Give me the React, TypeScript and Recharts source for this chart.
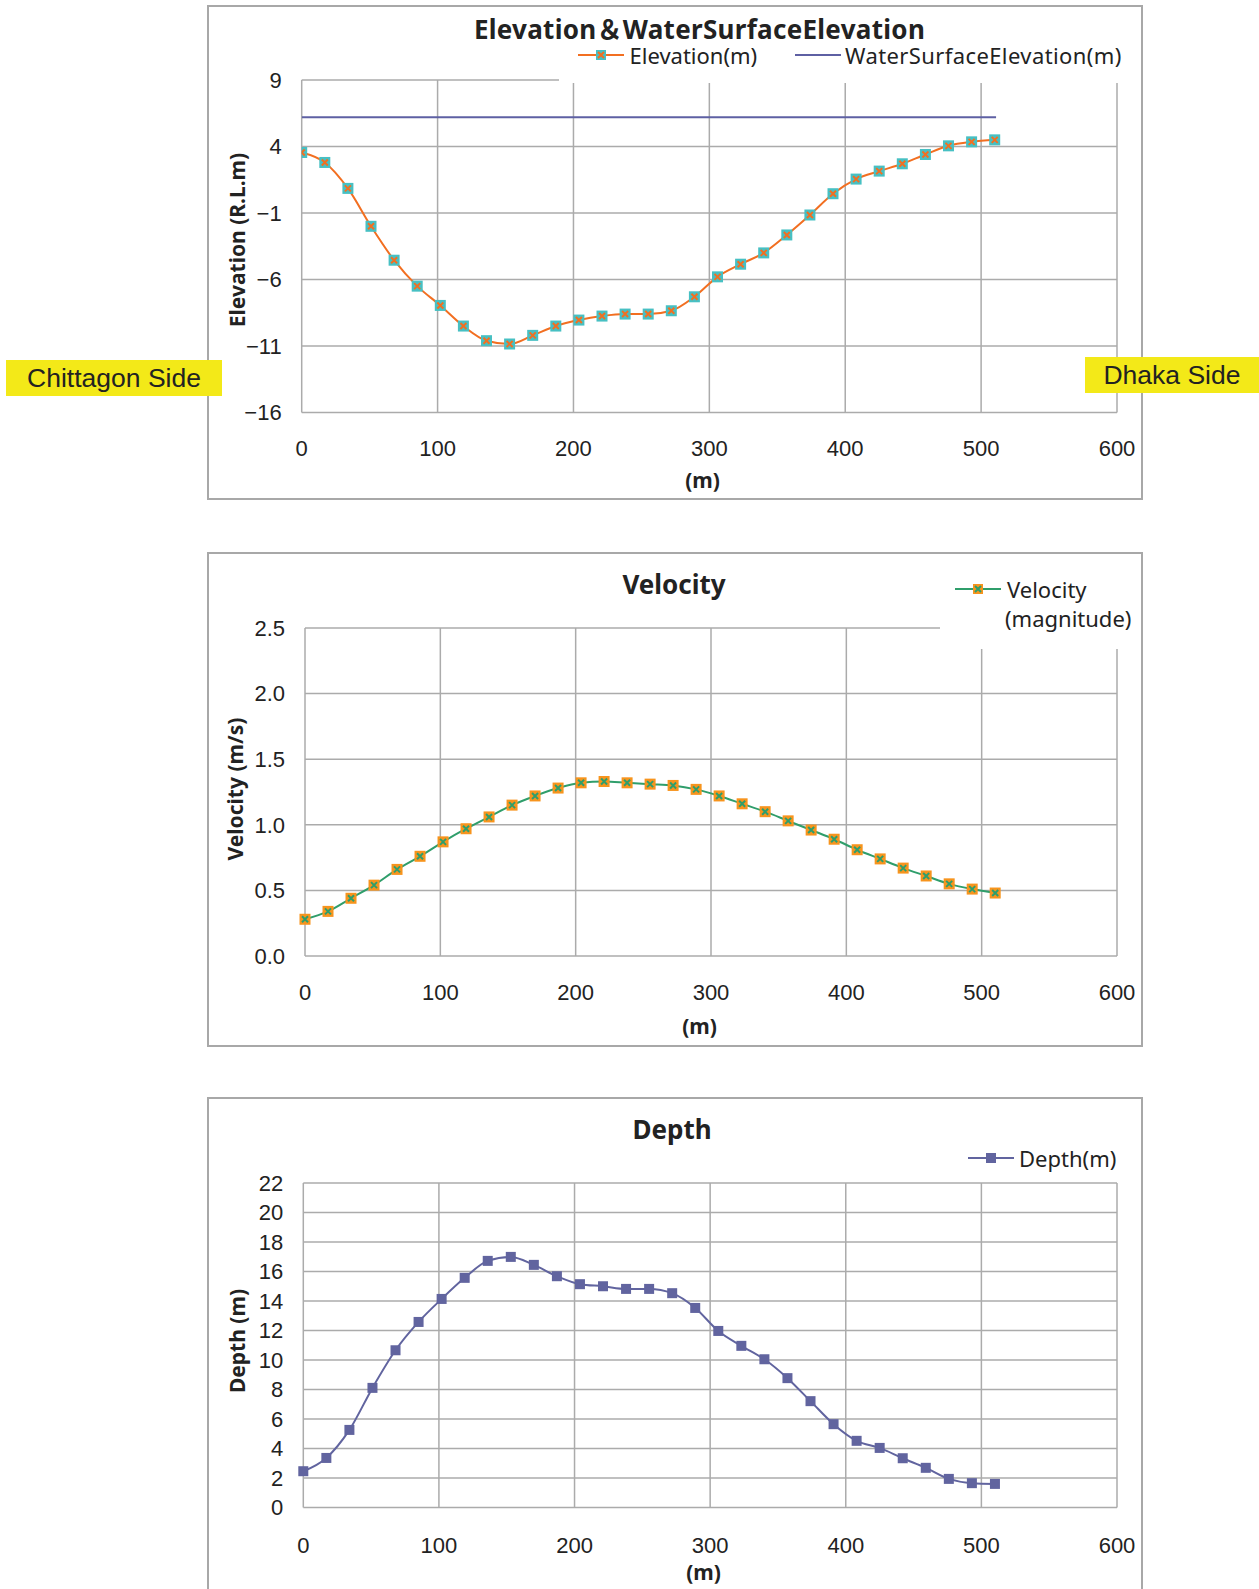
import React from 'react';
import { LineChart, Line, XAxis, YAxis, CartesianGrid } from 'recharts';

// distance along the cross-section (m)
const distance = [0, 17, 34, 51, 68, 85, 102, 119, 136, 153, 170, 187, 204, 221, 238, 255, 272, 289, 306, 323, 340, 357, 374, 391, 408, 425, 442, 459, 476, 493, 510];

const elevation = [3.55, 2.8, 0.85, -2.0, -4.55, -6.5, -7.95, -9.5, -10.6, -10.85, -10.2, -9.5, -9.05, -8.75, -8.6, -8.6, -8.35, -7.3, -5.8, -4.85, -4.0, -2.65, -1.15, 0.45, 1.55, 2.15, 2.7, 3.4, 4.05, 4.35, 4.5];

const waterDistance = [0, 511];
const waterSurface = [6.2, 6.2];

const velocity = [0.28, 0.34, 0.44, 0.54, 0.66, 0.76, 0.87, 0.97, 1.06, 1.15, 1.22, 1.28, 1.32, 1.33, 1.32, 1.31, 1.3, 1.27, 1.22, 1.16, 1.1, 1.03, 0.96, 0.89, 0.81, 0.74, 0.67, 0.61, 0.55, 0.51, 0.48];

const depth = [2.46, 3.36, 5.26, 8.11, 10.66, 12.58, 14.14, 15.57, 16.72, 16.99, 16.45, 15.68, 15.14, 15.0, 14.82, 14.82, 14.53, 13.53, 11.97, 10.96, 10.05, 8.77, 7.21, 5.65, 4.52, 4.04, 3.34, 2.69, 1.94, 1.65, 1.6];

const xTicks = [0, 100, 200, 300, 400, 500, 600];
const elevTicks = [-16, -11, -6, -1, 4, 9];
const velTicks = [0, 0.5, 1.0, 1.5, 2.0, 2.5];
const depthTicks = [0, 2, 4, 6, 8, 10, 12, 14, 16, 18, 20, 22];

const elevData = distance.map((x, i) => ({ x, elevation: elevation[i] }));
const waterData = waterDistance.map((x, i) => ({ x, water: waterSurface[i] }));
const velData = distance.map((x, i) => ({ x, velocity: velocity[i] }));
const depthData = distance.map((x, i) => ({ x, depth: depth[i] }));

const W = 936;
const H = 495;
const GRID = '#ababab';
const ORANGE_LINE = '#f26f21';
const TEAL = '#47c0c3';
const WATER = '#5e60a3';
const GREEN = '#2f9e6b';
const ORANGE_BOX = '#f7941d';
const DEPTH = '#61649f';

const SANS = '"Noto Sans", "Noto Sans CJK JP", sans-serif';
const tickStyle = { fill: '#222', fontSize: 22, fontFamily: '"Liberation Sans", Arial, sans-serif' };

const minus = (v: number) => String(v).replace('-', '\u2212');

function CrossBox({ cx, cy, box, cross, size = 11 }: any) {
  if (cx == null || cy == null) return null;
  const h = size / 2;
  return (
    <g>
      <rect x={cx - h} y={cy - h} width={size} height={size} fill={box} />
      <path d={`M${cx - 3},${cy - 3}L${cx + 3},${cy + 3}M${cx + 3},${cy - 3}L${cx - 3},${cy + 3}`} stroke={cross} strokeWidth={2} />
    </g>
  );
}

function Txt({ x, y, size, bold, rotate, children, spacing = 0, color = '#222' }: any) {
  return (
    <div
      style={{
        position: 'absolute',
        left: x,
        top: y,
        transform: `translate(-50%, -50%)${rotate ? ` rotate(${rotate}deg)` : ''}`,
        fontFamily: SANS,
        fontSize: size,
        fontWeight: bold ? 700 : 400,
        letterSpacing: spacing,
        lineHeight: 1,
        whiteSpace: 'nowrap',
        color,
      }}
    >
      {children}
    </div>
  );
}

function LegendText({ x, y, children, spacing = 0 }: any) {
  return (
    <div
      style={{
        position: 'absolute',
        left: x,
        top: y,
        transform: 'translateY(-50%)',
        fontFamily: SANS,
        fontSize: 22,
        letterSpacing: spacing,
        lineHeight: 1,
        whiteSpace: 'nowrap',
        color: '#222',
      }}
    >
      {children}
    </div>
  );
}

function Swatch({ x, y, color, marker }: any) {
  return (
    <svg style={{ position: 'absolute', left: x, top: y - 8 }} width={46} height={16}>
      <line x1={0} y1={8} x2={46} y2={8} stroke={color} strokeWidth={2} />
      {marker}
    </svg>
  );
}

function Panel({ top, children }: any) {
  return (
    <div style={{ position: 'absolute', left: 207, top, width: W, height: H }}>
      {children}
      <div
        style={{
          position: 'absolute',
          left: 0,
          top: 0,
          width: W,
          height: H,
          border: '2px solid #a8a8a8',
          boxSizing: 'border-box',
          pointerEvents: 'none',
        }}
      />
    </div>
  );
}

function SideTag({ left, top, width, children }: any) {
  return (
    <div
      style={{
        position: 'absolute',
        left,
        top,
        width,
        height: 36,
        background: '#f3e918',
        display: 'flex',
        alignItems: 'center',
        justifyContent: 'center',
        fontFamily: '"Liberation Sans", Arial, sans-serif',
        fontSize: 26.5,
        color: '#222',
      }}
    >
      {children}
    </div>
  );
}

export default function App() {
  return (
    <div style={{ position: 'absolute', left: 0, top: 0, width: 1259, height: 1589, overflow: 'hidden', background: '#fff' }}>
      {/* Elevation & water surface */}
      <Panel top={5}>
        <div style={{ position: 'absolute', left: 0, top: 0 }}>
          <LineChart width={W} height={H} margin={{ top: 75, right: 26, bottom: 47.5, left: 34.7 }}>
            <CartesianGrid stroke={GRID} strokeWidth={1.5} />
            <XAxis dataKey="x" type="number" domain={[0, 600]} ticks={xTicks} interval={0} axisLine={false} tickLine={false} tickSize={0} tickMargin={27.5} height={40} tick={tickStyle} allowDataOverflow />
            <YAxis type="number" domain={[-16, 9]} ticks={elevTicks} interval={0} axisLine={false} tickLine={false} tickSize={0} tickMargin={20} width={60} tick={tickStyle} tickFormatter={minus} />
            <Line data={waterData} dataKey="water" stroke={WATER} strokeWidth={2} dot={false} isAnimationActive={false} />
            <Line
              data={elevData}
              dataKey="elevation"
              type="monotone"
              stroke={ORANGE_LINE}
              strokeWidth={2}
              dot={(p: any) => <CrossBox key={p.index} cx={p.cx} cy={p.cy} box={TEAL} cross={ORANGE_LINE} />}
              isAnimationActive={false}
            />
          </LineChart>
        </div>
        <div style={{ position: 'absolute', left: 352, top: 40, width: 574, height: 38, background: '#fff' }} />
        <Txt x={492.5} y={24} size={26} bold spacing={0.3}>Elevation＆WaterSurfaceElevation</Txt>
        <Swatch x={371} y={50} color={ORANGE_LINE} marker={<CrossBox cx={23} cy={8} box={TEAL} cross={ORANGE_LINE} size={10} />} />
        <LegendText x={422.5} y={50}>Elevation(m)</LegendText>
        <Swatch x={588} y={50} color={WATER} />
        <LegendText x={638} y={50} spacing={0.4}>WaterSurfaceElevation(m)</LegendText>
        <Txt x={30} y={235} size={21} bold rotate={-90}>Elevation (R.L.m)</Txt>
        <Txt x={495.5} y={475} size={21} bold>(m)</Txt>
      </Panel>

      {/* Velocity */}
      <Panel top={552}>
        <div style={{ position: 'absolute', left: 0, top: 0 }}>
          <LineChart data={velData} width={W} height={H} margin={{ top: 76, right: 26, bottom: 51, left: 38 }}>
            <CartesianGrid stroke={GRID} strokeWidth={1.5} />
            <XAxis dataKey="x" type="number" domain={[0, 600]} ticks={xTicks} interval={0} axisLine={false} tickLine={false} tickSize={0} tickMargin={28} height={40} tick={tickStyle} />
            <YAxis type="number" domain={[0, 2.5]} ticks={velTicks} interval={0} axisLine={false} tickLine={false} tickSize={0} tickMargin={20} width={60} tick={tickStyle} tickFormatter={(v: number) => v.toFixed(1)} />
            <Line
              dataKey="velocity"
              type="monotone"
              stroke={GREEN}
              strokeWidth={2}
              dot={(p: any) => <CrossBox key={p.index} cx={p.cx} cy={p.cy} box={ORANGE_BOX} cross={GREEN} />}
              isAnimationActive={false}
            />
          </LineChart>
        </div>
        <div style={{ position: 'absolute', left: 733, top: 18, width: 195, height: 79, background: '#fff' }} />
        <Txt x={467} y={32} size={26} bold>Velocity</Txt>
        <Swatch x={748} y={37} color={GREEN} marker={<CrossBox cx={23} cy={8} box={ORANGE_BOX} cross={GREEN} size={10} />} />
        <LegendText x={800} y={37}>Velocity</LegendText>
        <LegendText x={798} y={66}>(magnitude)</LegendText>
        <Txt x={28} y={237} size={21} bold rotate={-90}>Velocity (m/s)</Txt>
        <Txt x={492.5} y={474} size={21} bold>(m)</Txt>
      </Panel>

      {/* Depth */}
      <Panel top={1097}>
        <div style={{ position: 'absolute', left: 0, top: 0 }}>
          <LineChart data={depthData} width={W} height={H} margin={{ top: 86, right: 26, bottom: 44.5, left: 36.3 }}>
            <CartesianGrid stroke={GRID} strokeWidth={1.5} />
            <XAxis dataKey="x" type="number" domain={[0, 600]} ticks={xTicks} interval={0} axisLine={false} tickLine={false} tickSize={0} tickMargin={29.5} height={40} tick={tickStyle} />
            <YAxis type="number" domain={[0, 22]} ticks={depthTicks} interval={0} axisLine={false} tickLine={false} tickSize={0} tickMargin={20} width={60} tick={tickStyle} />
            <Line
              dataKey="depth"
              type="monotone"
              stroke={DEPTH}
              strokeWidth={2}
              dot={(p: any) =>
                p.cx == null ? null : (
                  <rect key={p.index} x={p.cx - 5} y={p.cy - 5} width={10} height={10} fill={DEPTH} />
                )
              }
              isAnimationActive={false}
            />
          </LineChart>
        </div>
        <Txt x={465} y={32} size={26} bold>Depth</Txt>
        <Swatch x={761} y={61} color={DEPTH} marker={<rect x={18} y={3} width={10} height={10} fill={DEPTH} />} />
        <LegendText x={812} y={61}>Depth(m)</LegendText>
        <Txt x={29.5} y={244} size={21} bold rotate={-90}>Depth (m)</Txt>
        <Txt x={496.5} y={475} size={21} bold>(m)</Txt>
      </Panel>

      <SideTag left={6} top={360} width={216}>Chittagon Side</SideTag>
      <SideTag left={1085} top={357} width={174}>Dhaka Side</SideTag>
    </div>
  );
}
